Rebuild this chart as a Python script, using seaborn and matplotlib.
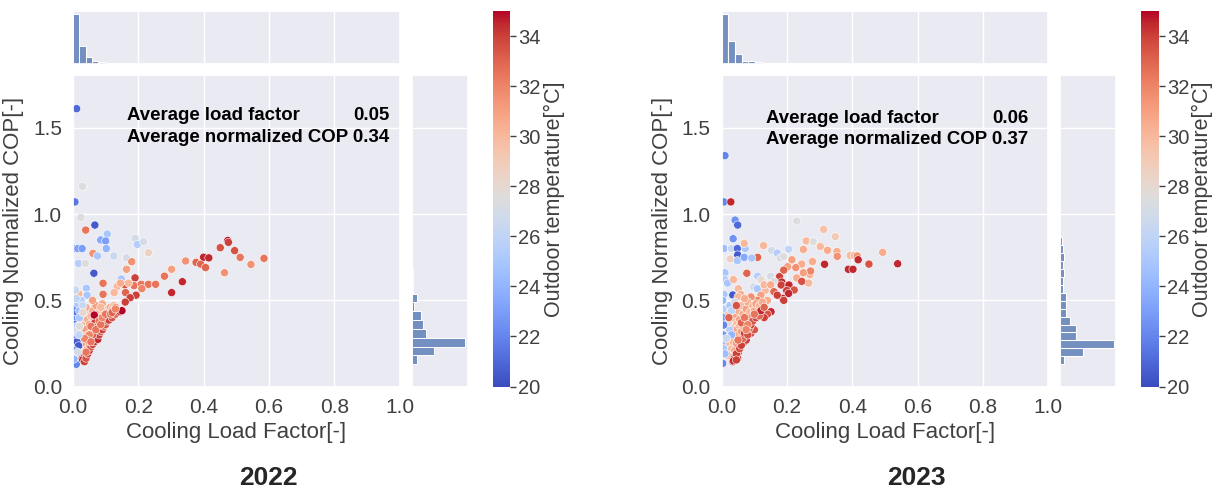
import numpy as np
import pandas as pd
import matplotlib.pyplot as plt
import matplotlib as mpl
import seaborn as sns

sns.set_theme(style="darkgrid")
plt.rcParams['font.family'] = ['Liberation Sans', 'DejaVu Sans']

# ---------------- 2022 ----------------
# (load factor, normalized COP, outdoor temp)
pts_2022 = [
    (0.011, 1.61, 21), (0.029, 1.16, 27.5), (0.006, 1.07, 21.5), (0.024, 0.98, 27.5),
    (0.067, 0.936, 20.5), (0.039, 0.907, 32.5), (0.105, 0.884, 25), (0.085, 0.85, 23.5),
    (0.10, 0.844, 23), (0.004, 0.80, 23), (0.015, 0.80, 23), (0.028, 0.80, 23),
    (0.061, 0.772, 31.5), (0.075, 0.757, 25), (0.102, 0.80, 24), (0.125, 0.757, 26.5),
    (0.017, 0.714, 25.5), (0.038, 0.714, 27.5), (0.164, 0.747, 27), (0.19, 0.86, 27),
    (0.197, 0.824, 25.5), (0.216, 0.84, 27), (0.231, 0.776, 28.5), (0.18, 0.724, 31.5),
    (0.164, 0.68, 31), (0.064, 0.657, 20.5), (0.148, 0.624, 25), (0.19, 0.63, 34),
    (0.159, 0.59, 33.5), (0.092, 0.599, 32.5), (0.041, 0.57, 25), (0.008, 0.537, 30),
    (0.018, 0.537, 30), (0.043, 0.53, 25), (0.135, 0.58, 30), (0.126, 0.545, 30),
    (0.092, 0.535, 32.5), (0.161, 0.545, 33), (0.187, 0.585, 32.5), (0.209, 0.593, 32.5),
    (0.231, 0.593, 32.5), (0.253, 0.593, 32.5), (0.211, 0.568, 32), (0.193, 0.53, 34),
    (0.175, 0.515, 34), (0.16, 0.49, 34), (0.28, 0.64, 32.5), (0.302, 0.68, 31),
    (0.302, 0.545, 34.5), (0.335, 0.608, 34.5), (0.345, 0.728, 31.5), (0.377, 0.72, 33),
    (0.391, 0.71, 33), (0.40, 0.75, 34.5), (0.416, 0.746, 34.5), (0.406, 0.69, 33),
    (0.451, 0.805, 33.5), (0.474, 0.846, 35), (0.476, 0.836, 34), (0.495, 0.788, 33.5),
    (0.512, 0.749, 32.5), (0.464, 0.66, 31.5), (0.545, 0.708, 31.5), (0.585, 0.743, 32.5),
    (0.010, 0.13, 22), (0.145, 0.60, 30.5), (0.17, 0.60, 30),
    # salmon core
    (0.02, 0.42, 30), (0.025, 0.38, 30.5), (0.03, 0.36, 30), (0.035, 0.40, 31),
    (0.04, 0.43, 30), (0.045, 0.39, 30.5), (0.05, 0.36, 31), (0.055, 0.41, 30),
    (0.06, 0.44, 30.5), (0.065, 0.39, 31), (0.07, 0.35, 30), (0.075, 0.42, 31.5),
    (0.08, 0.44, 30), (0.085, 0.40, 31), (0.09, 0.37, 30.5), (0.095, 0.43, 30),
    (0.10, 0.45, 31), (0.105, 0.41, 30.5), (0.11, 0.44, 30), (0.115, 0.46, 31),
    (0.12, 0.45, 30.5), (0.125, 0.47, 30), (0.13, 0.46, 31.5), (0.03, 0.32, 30),
    (0.035, 0.29, 30.5), (0.04, 0.33, 31), (0.045, 0.30, 30), (0.05, 0.27, 30.5),
    (0.055, 0.31, 31), (0.06, 0.33, 30), (0.065, 0.30, 31.5), (0.025, 0.27, 30),
    (0.03, 0.25, 29.5), (0.035, 0.22, 30), (0.02, 0.23, 29.5), (0.04, 0.25, 31),
    (0.045, 0.22, 31.5), (0.05, 0.24, 30.5), (0.015, 0.39, 29.5), (0.04, 0.46, 30.5),
    (0.07, 0.47, 31), (0.09, 0.48, 30.5), (0.06, 0.50, 31), (0.085, 0.46, 30),
    (0.02, 0.20, 30), (0.028, 0.18, 31),
    # red edge
    (0.025, 0.174, 34), (0.03, 0.155, 34.5), (0.035, 0.145, 34), (0.04, 0.165, 33.5),
    (0.045, 0.19, 34), (0.05, 0.21, 34.5), (0.055, 0.23, 33.5), (0.06, 0.245, 34),
    (0.065, 0.26, 34.5), (0.07, 0.28, 33.5), (0.076, 0.274, 34.5), (0.08, 0.30, 34),
    (0.085, 0.32, 33.5), (0.09, 0.33, 34), (0.095, 0.35, 33), (0.10, 0.36, 33.5),
    (0.105, 0.38, 33), (0.11, 0.386, 34), (0.12, 0.40, 33.5), (0.13, 0.42, 33),
    (0.145, 0.434, 34.5), (0.15, 0.44, 35), (0.067, 0.37, 34), (0.065, 0.415, 35),
    (0.075, 0.35, 33), (0.08, 0.38, 32.5), (0.055, 0.35, 32.5), (0.06, 0.30, 33),
    (0.07, 0.33, 32.5), (0.05, 0.30, 32), (0.085, 0.36, 32.5), (0.09, 0.40, 32),
    (0.10, 0.42, 32.5), (0.045, 0.27, 33), (0.04, 0.20, 32.5), (0.035, 0.28, 32),
    (0.055, 0.26, 32.5), (0.115, 0.42, 32.5), (0.12, 0.43, 33), (0.13, 0.45, 32),
    # blue / grey column near zero load (drawn on top)
    (0.003, 0.45, 22), (0.004, 0.42, 21.5), (0.003, 0.39, 22.5), (0.004, 0.36, 21),
    (0.006, 0.33, 23), (0.003, 0.30, 22), (0.005, 0.27, 21.5), (0.012, 0.26, 20.5),
    (0.017, 0.237, 20.5), (0.003, 0.21, 22.5), (0.005, 0.18, 27), (0.003, 0.16, 24),
    (0.015, 0.48, 25), (0.02, 0.44, 24.5), (0.025, 0.50, 25.5), (0.010, 0.51, 26),
    (0.03, 0.47, 26.5), (0.012, 0.35, 25.5), (0.010, 0.32, 27), (0.018, 0.30, 26),
    (0.02, 0.40, 25), (0.008, 0.56, 26.5), (0.02, 0.35, 27.5), (0.015, 0.20, 27),
    (0.03, 0.43, 28),
]

# marginal histogram counts
top_bin_2022 = 0.0195
top_counts_2022 = [1500, 525, 195, 75, 45, 18, 15, 9, 9, 8, 6, 6, 5, 4, 3,
                   3, 2, 2, 2, 2, 2, 2, 1, 2, 1, 1, 1, 1, 1, 1]
right_start_2022, right_bin_2022 = 0.13, 0.0511
right_counts_2022 = [100, 430, 1000, 280, 220, 180, 50, 95, 30, 20, 20, 15, 10, 15, 8,
                     4, 3, 2, 2, 1, 1, 1, 0, 0, 0, 0, 0, 0, 1, 1]

# ---------------- 2023 ----------------
pts_2023 = [
    (0.01, 1.338, 22), (0.007, 1.07, 22), (0.028, 1.07, 34.5), (0.23, 0.96, 27.5),
    (0.041, 0.965, 22.5), (0.049, 0.936, 21), (0.035, 0.857, 22.5), (0.007, 0.80, 24.5),
    (0.03, 0.80, 26.5), (0.048, 0.80, 21), (0.072, 0.80, 25), (0.069, 0.83, 30),
    (0.049, 0.763, 20.5), (0.026, 0.74, 28.5), (0.048, 0.73, 25), (0.069, 0.749, 23.5),
    (0.11, 0.749, 33), (0.092, 0.745, 25), (0.128, 0.817, 30), (0.153, 0.79, 27),
    (0.17, 0.774, 25.5), (0.179, 0.745, 27), (0.19, 0.754, 27.5), (0.205, 0.796, 26),
    (0.25, 0.795, 30.5), (0.259, 0.844, 30), (0.28, 0.84, 27.5), (0.312, 0.911, 29.5),
    (0.302, 0.812, 30), (0.324, 0.79, 30.5), (0.348, 0.869, 29), (0.353, 0.783, 30.5),
    (0.354, 0.755, 31.5), (0.394, 0.76, 30), (0.406, 0.76, 30), (0.415, 0.757, 31.5),
    (0.418, 0.735, 34.5), (0.451, 0.71, 33.5), (0.388, 0.68, 34.5), (0.402, 0.68, 34.5),
    (0.493, 0.778, 30.5), (0.539, 0.712, 34.5), (0.315, 0.709, 34.5), (0.278, 0.725, 30.5),
    (0.245, 0.71, 30.5), (0.227, 0.69, 31.5), (0.202, 0.695, 31), (0.215, 0.735, 31),
    (0.27, 0.65, 30.5), (0.272, 0.67, 32), (0.266, 0.60, 30), (0.077, 0.657, 33),
    (0.01, 0.66, 25), (0.01, 0.62, 25.5), (0.018, 0.60, 25), (0.036, 0.62, 30),
    (0.051, 0.567, 30), (0.034, 0.531, 20.5), (0.007, 0.534, 25), (0.058, 0.534, 30.5),
    (0.097, 0.578, 27), (0.109, 0.567, 25), (0.133, 0.557, 30), (0.14, 0.50, 30.5),
    (0.177, 0.637, 34), (0.184, 0.606, 34.5), (0.182, 0.589, 34), (0.206, 0.589, 34.5),
    (0.199, 0.557, 34), (0.222, 0.56, 33.5), (0.187, 0.512, 34.5), (0.19, 0.50, 34),
    (0.151, 0.434, 34.5), (0.123, 0.415, 34.5), (0.113, 0.435, 34), (0.018, 0.425, 34.5),
    (0.007, 0.26, 24.5), (0.003, 0.135, 22), (0.034, 0.145, 34.5),
    (0.049, 0.164, 34), (0.051, 0.20, 34.5), (0.07, 0.26, 33.5), (0.075, 0.27, 34),
    (0.089, 0.309, 34), (0.10, 0.33, 33.5), (0.14, 0.42, 33.5), (0.13, 0.40, 34),
    (0.11, 0.64, 25.5), (0.12, 0.62, 28), (0.15, 0.64, 27), (0.16, 0.61, 27.5),
    (0.19, 0.675, 33), (0.23, 0.63, 30.5), (0.25, 0.66, 31), (0.245, 0.61, 33.5),
    (0.13, 0.59, 30), (0.15, 0.59, 30.5), (0.16, 0.55, 33), (0.17, 0.53, 34),
    (0.205, 0.54, 34.5), (0.12, 0.53, 31), (0.11, 0.50, 32), (0.09, 0.52, 31.5),
    # low-load cluster
    (0.02, 0.45, 30), (0.03, 0.41, 30.5), (0.035, 0.38, 30), (0.04, 0.42, 31),
    (0.045, 0.36, 30), (0.05, 0.44, 30.5), (0.055, 0.39, 31), (0.06, 0.47, 30),
    (0.065, 0.42, 30.5), (0.07, 0.38, 30), (0.075, 0.45, 31), (0.08, 0.49, 30.5),
    (0.085, 0.43, 30), (0.09, 0.40, 31.5), (0.095, 0.47, 30), (0.10, 0.44, 30.5),
    (0.105, 0.48, 31), (0.115, 0.47, 30), (0.125, 0.49, 30.5), (0.03, 0.34, 30),
    (0.035, 0.31, 30.5), (0.04, 0.28, 30), (0.045, 0.33, 31), (0.05, 0.30, 30.5),
    (0.055, 0.35, 30), (0.06, 0.32, 31), (0.065, 0.35, 30.5), (0.025, 0.25, 30),
    (0.03, 0.22, 29.5), (0.035, 0.26, 30), (0.04, 0.21, 30.5), (0.02, 0.18, 29.5),
    (0.045, 0.25, 31), (0.05, 0.52, 30), (0.07, 0.51, 30.5), (0.015, 0.43, 29.5),
    (0.04, 0.17, 33.5), (0.045, 0.19, 34), (0.055, 0.22, 33.5), (0.06, 0.24, 34),
    (0.065, 0.28, 33), (0.07, 0.31, 34), (0.08, 0.30, 33.5), (0.085, 0.34, 33),
    (0.09, 0.36, 34), (0.095, 0.38, 33.5), (0.105, 0.40, 34), (0.115, 0.41, 33),
    (0.12, 0.44, 34.5), (0.06, 0.37, 33), (0.07, 0.40, 32.5), (0.08, 0.36, 32),
    (0.05, 0.27, 32.5), (0.075, 0.33, 32), (0.1, 0.42, 32.5), (0.13, 0.46, 33),
    (0.036, 0.15, 34.5), (0.045, 0.155, 34),
    (0.003, 0.50, 24), (0.004, 0.45, 25.5), (0.005, 0.40, 23), (0.004, 0.30, 22.5),
    (0.006, 0.22, 25), (0.01, 0.19, 24.5), (0.025, 0.47, 25), (0.03, 0.44, 26),
    (0.025, 0.33, 25.5), (0.03, 0.30, 24), (0.015, 0.28, 26.5), (0.02, 0.37, 27.5),
    (0.04, 0.49, 27), (0.022, 0.40, 33), (0.045, 0.47, 33.5), (0.006, 0.357, 22),
]

top_bin_2023 = 0.0205
top_counts_2023 = [1500, 675, 300, 100, 80, 60, 20, 40, 40, 40, 12, 10, 8, 6,
                   5, 5, 4, 3, 3, 2, 2, 2, 1, 1, 1, 1, 1]
right_start_2023, right_bin_2023 = 0.13, 0.046
right_counts_2023 = [75, 430, 1000, 300, 300, 190, 100, 110, 100, 50, 60, 70, 60, 70,
                     60, 40, 3, 2, 2, 1, 1, 1, 1, 1, 0, 0, 1]

texts = {"2022": ("0.05", "0.34"), "2023": ("0.06", "0.37")}

W, H = 1217, 490
fig = plt.figure(figsize=(W / 100, H / 100), dpi=100)
norm = mpl.colors.Normalize(vmin=20, vmax=35)


def px(l, b, r, t):
    return [l / W, 1 - b / H, (r - l) / W, (b - t) / H]


def hist_frame(start, width, counts):
    edges = [start + width * i for i in range(len(counts) + 1)]
    centers = [start + width * (i + 0.5) for i in range(len(counts))]
    return pd.DataFrame({"v": centers, "n": [float(c) for c in counts]}), edges


def draw_panel(pts, top_bin, top_counts, r_start, r_bin, right_counts, year, x0, text_pos):
    df = pd.DataFrame(pts, columns=["load", "cop", "temp"])
    ax = fig.add_axes(px(x0, 386.7, x0 + 326.5, 75))
    ax_top = fig.add_axes(px(x0, 64, x0 + 326.5, 11), sharex=ax)
    ax_right = fig.add_axes(px(x0 + 338.5, 386.7, x0 + 394.5, 75), sharey=ax)
    cax = fig.add_axes(px(x0 + 419.5, 386.5, x0 + 437, 11))

    sns.scatterplot(data=df, x="load", y="cop", hue="temp", palette="coolwarm",
                    hue_norm=norm, s=34, edgecolor="white", linewidth=0.4,
                    legend=False, ax=ax)
    ax.set_xticks([0, 0.2, 0.4, 0.6, 0.8, 1.0])
    ax.set_yticks([0, 0.5, 1.0, 1.5])
    ax.tick_params(labelsize=15, pad=2, labelcolor="0.25")
    ax.set_xlabel("Cooling Load Factor[-]", fontsize=16, labelpad=4, color="0.25")
    ax.set_ylabel("Cooling Normalized COP[-]", fontsize=16, labelpad=6, color="0.25")

    # annotation (axes coords): line 2 is one string, line 1 value right-aligned to it
    tx_l, ty1, ty2 = text_pos
    kw = dict(fontsize=13.4, fontweight="bold", va="center", color="black",
              transform=ax.transAxes)
    line2 = ax.text(tx_l, ty2, "Average normalized COP " + texts[year][1], **kw)
    ax.text(tx_l, ty1, "Average load factor", **kw)
    fig.canvas.draw()
    bb = line2.get_window_extent().transformed(ax.transAxes.inverted())
    ax.text(bb.x1, ty1, texts[year][0], ha="right", **kw)

    hdf, edges = hist_frame(0.0, top_bin, top_counts)
    sns.histplot(data=hdf, x="v", weights="n", bins=edges, ax=ax_top, color="#4C72B0")
    hdf, edges = hist_frame(r_start, r_bin, right_counts)
    sns.histplot(data=hdf, y="v", weights="n", bins=edges, ax=ax_right, color="#4C72B0")

    for a in (ax_top, ax_right):
        a.set_xlabel("")
        a.set_ylabel("")
    ax_top.tick_params(labelbottom=False, labelleft=False)
    ax_top.yaxis.grid(False)
    ax_top.set_ylim(0, max(top_counts) * 1.05)
    ax_right.tick_params(labelbottom=False, labelleft=False)
    ax_right.xaxis.grid(False)
    ax_right.set_xlim(0, max(right_counts) * 1.05)
    ax.set_xlim(0, 1.0)
    ax.set_ylim(0, 1.805)

    sm = mpl.cm.ScalarMappable(norm=norm, cmap="coolwarm")
    cb = fig.colorbar(sm, cax=cax, ticks=range(20, 35, 2))
    cb.outline.set_visible(False)
    cax.tick_params(labelsize=14.5, length=4, width=1, color="0.25", labelcolor="0.25",
                    right=True, pad=2)
    cb.set_label("Outdoor temperature[°C]", fontsize=15.5, labelpad=2, color="0.25")

    fig.text((x0 + 195) / W, 1 - 478 / H, year, fontsize=19, fontweight="bold",
             ha="center", va="center",
             family=["Liberation Sans Narrow", "Liberation Sans", "DejaVu Sans"])


# text positions in axes fraction: left x, line-1 y, line-2 y
draw_panel(pts_2022, top_bin_2022, top_counts_2022, right_start_2022, right_bin_2022,
           right_counts_2022, "2022", 73, (0.166, 0.871, 0.798))
draw_panel(pts_2023, top_bin_2023, top_counts_2023, right_start_2023, right_bin_2023,
           right_counts_2023, "2023", 721.7, (0.135, 0.862, 0.792))

plt.savefig("out.png", dpi=100)
